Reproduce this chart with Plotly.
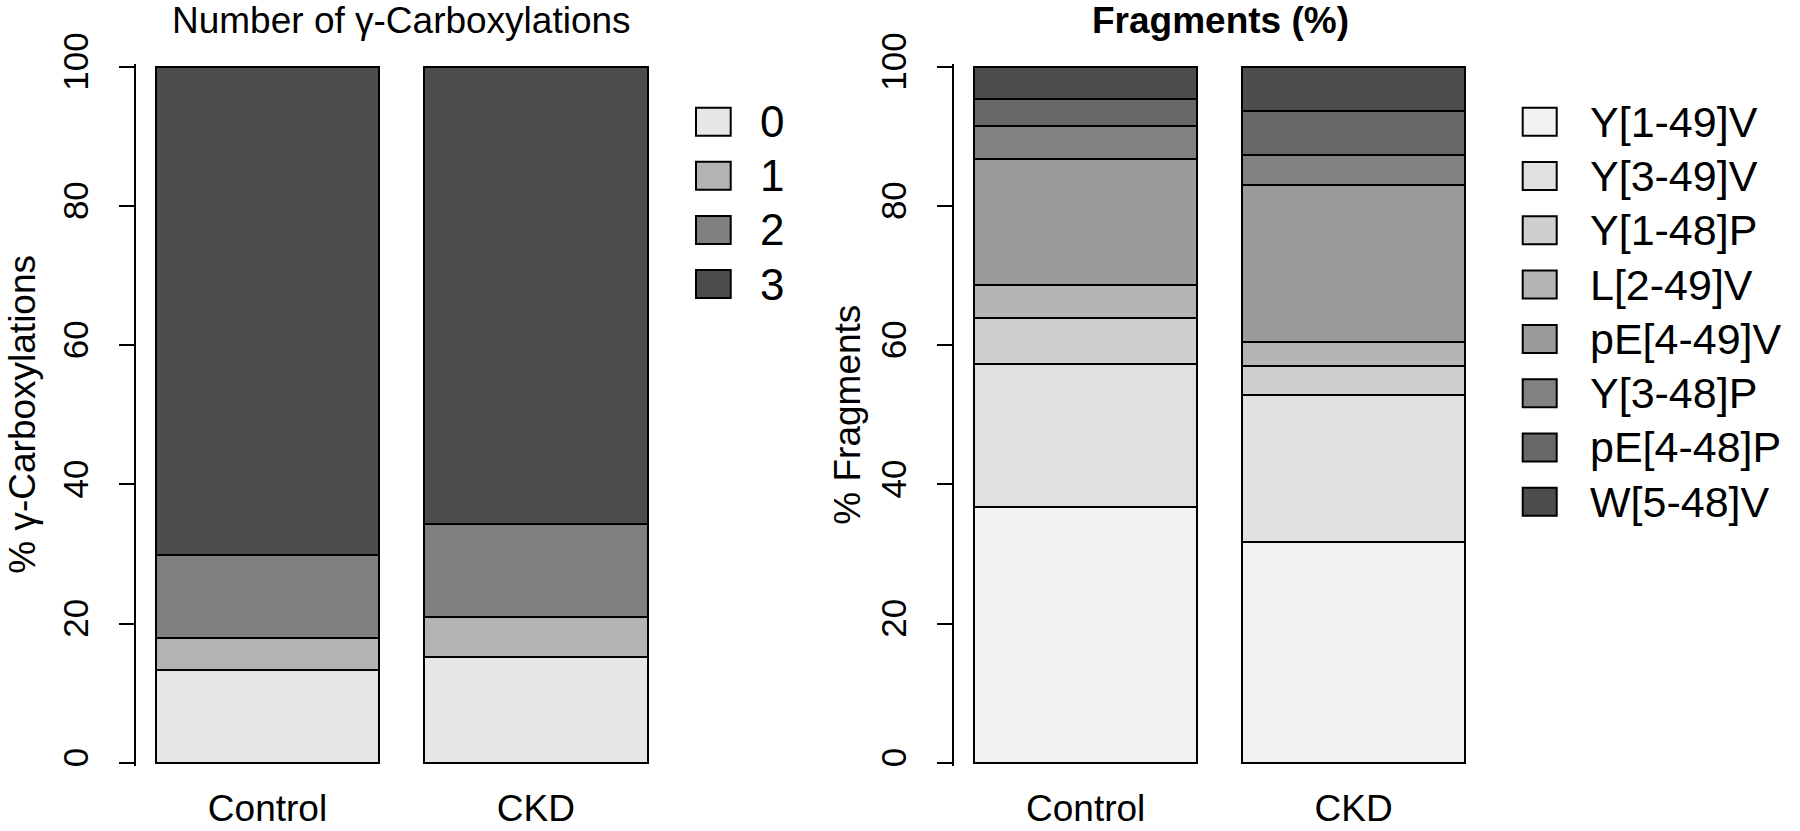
import plotly.graph_objects as go

# ---------------- data ----------------
categories = ["Control", "CKD"]

carbox_levels = ["0", "1", "2", "3"]
carbox_0 = [13.3, 15.2]
carbox_1 = [4.6, 5.7]
carbox_2 = [12.0, 13.4]
carbox_3 = [70.1, 65.7]

fragment_names = ["Y[1-49]V", "Y[3-49]V", "Y[1-48]P", "L[2-49]V",
                  "pE[4-49]V", "Y[3-48]P", "pE[4-48]P", "W[5-48]V"]
frag_Y1_49V = [36.8, 31.7]
frag_Y3_49V = [20.5, 21.1]
frag_Y1_48P = [6.6, 4.2]
frag_L2_49V = [4.7, 3.4]
frag_pE4_49V = [18.2, 22.6]
frag_Y3_48P = [4.7, 4.3]
frag_pE4_48P = [3.9, 6.3]
frag_W5_48V = [4.6, 6.4]

y_ticks = [0, 20, 40, 60, 80, 100]

# ---------------- styles ----------------
carbox_colors = ["#E6E6E6", "#B3B3B3", "#808080", "#4D4D4D"]
frag_colors = ["#F2F2F2", "#E0E0E0", "#CFCFCF", "#B5B5B5",
               "#9B9B9B", "#828282", "#686868", "#4D4D4D"]

carbox_series = [carbox_0, carbox_1, carbox_2, carbox_3]
frag_series = [frag_Y1_49V, frag_Y3_49V, frag_Y1_48P, frag_L2_49V,
               frag_pE4_49V, frag_Y3_48P, frag_pE4_48P, frag_W5_48V]

W, H = 1800, 831
FONT = "Liberation Sans, Arial, Helvetica, sans-serif"


def px_x(p):
    return p / W


def px_y(p):
    return 1 - p / H


bar_pos = [0.7 + 1.2 * i for i in range(len(categories))]

fig = go.Figure()
for name, vals, col in zip(carbox_levels, carbox_series, carbox_colors):
    fig.add_trace(go.Bar(x=bar_pos, y=vals, width=1, name=name,
                         marker=dict(color=col, line=dict(color="black", width=2)),
                         xaxis="x", yaxis="y", showlegend=False))
for name, vals, col in zip(fragment_names, frag_series, frag_colors):
    fig.add_trace(go.Bar(x=bar_pos, y=vals, width=1, name=name,
                         marker=dict(color=col, line=dict(color="black", width=2)),
                         xaxis="x2", yaxis="y2", showlegend=False))

ydom = [px_y(765.5), px_y(63.9)]
common_x = dict(range=[0.112, 2.488], tickvals=bar_pos, ticktext=categories,
                showline=False, ticks="", showgrid=False, zeroline=False,
                tickfont=dict(size=37, color="black", family=FONT),
                ticklabelstandoff=17, fixedrange=True, automargin=False)
common_y = dict(domain=ydom, range=[-0.4, 100.4], tickvals=y_ticks,
                showline=True, linecolor="black", linewidth=2,
                ticks="outside", ticklen=15, tickwidth=2, tickcolor="black",
                tickangle=-90, showgrid=False, zeroline=False,
                tickfont=dict(size=35, color="black", family=FONT),
                ticklabelstandoff=17, fixedrange=True, automargin=False)

fig.update_layout(
    template="none",
    width=W, height=H, autosize=False,
    margin=dict(l=0, r=0, t=0, b=0, pad=0),
    paper_bgcolor="white", plot_bgcolor="white",
    barmode="stack", bargap=0,
    font=dict(family=FONT, color="black"),
    xaxis=dict(domain=[px_x(136.0), px_x(667.4)], anchor="y", **common_x),
    yaxis=dict(anchor="x", **common_y),
    xaxis2=dict(domain=[px_x(954.4), px_x(1484.9)], anchor="y2", **common_x),
    yaxis2=dict(anchor="x2", **common_y),
)

annotations = [
    dict(text="Number of γ-Carboxylations", x=px_x(401.7), y=px_y(20),
         font=dict(size=37)),
    dict(text="<b>Fragments (%)</b>", x=px_x(1220.0), y=px_y(20),
         font=dict(size=37)),
    dict(text="% γ-Carboxylations", x=px_x(23), y=px_y(414.7),
         textangle=-90, font=dict(size=37)),
    dict(text="% Fragments", x=px_x(848), y=px_y(414.7),
         textangle=-90, font=dict(size=37)),
]
shapes = []


# manual legends (key squares + labels)
def add_legend(names, colors, key_x0, key_x1, label_x, row0, step, fsize):
    for i, (nm, col) in enumerate(zip(names, colors)):
        cy = row0 + step * i
        shapes.append(dict(type="rect", xref="paper", yref="paper",
                           x0=px_x(key_x0), x1=px_x(key_x1),
                           y0=px_y(cy + 14), y1=px_y(cy - 14),
                           fillcolor=col, line=dict(color="black", width=2)))
        annotations.append(dict(text=nm, x=px_x(label_x), y=px_y(cy),
                                xanchor="left", font=dict(size=fsize)))


add_legend(carbox_levels, carbox_colors, 696, 730.7, 758, 121.7, 54.1, 44)
add_legend(fragment_names, frag_colors, 1522.7, 1556.7, 1588, 121.7, 54.3, 43)

for a in annotations:
    a.setdefault("xref", "paper")
    a.setdefault("yref", "paper")
    a.setdefault("showarrow", False)
    a.setdefault("xanchor", "center")
    a.setdefault("yanchor", "middle")
    a["font"] = dict(family=FONT, color="black", **a.get("font", {}))

fig.update_layout(annotations=annotations, shapes=shapes)

fig.write_html("out.html", include_plotlyjs=True, full_html=True,
               config={"displayModeBar": False},
               post_script="document.body.style.margin='0px';"
                           "document.body.style.padding='0px';"
                           "document.body.style.overflow='hidden';")
